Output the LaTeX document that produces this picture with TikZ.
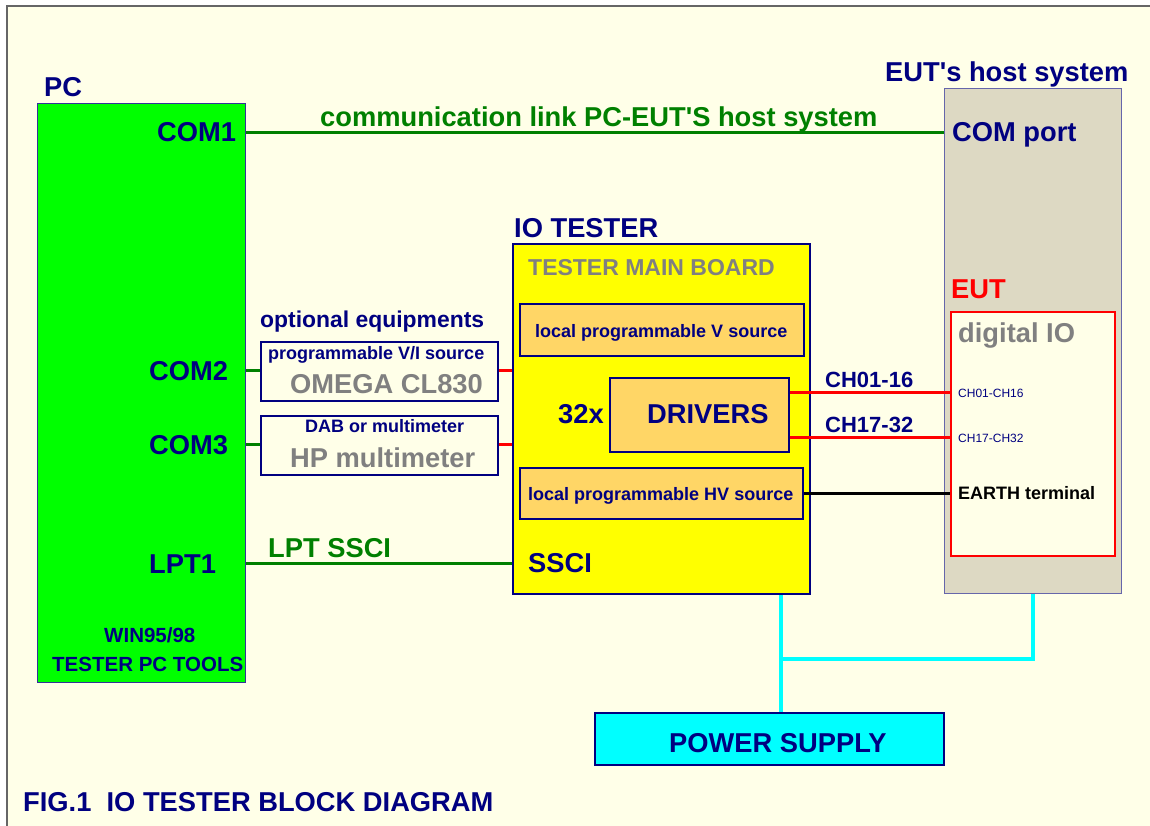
\documentclass[tikz,border=0pt]{standalone}
\usepackage{fontspec}
\setmainfont{Liberation Sans}
\usetikzlibrary{positioning}
\definecolor{navy}{RGB}{0,0,128}
\definecolor{cream}{RGB}{255,255,232}
\definecolor{pcgreen}{RGB}{0,255,0}
\definecolor{linkgreen}{RGB}{0,128,0}
\definecolor{hostgray}{RGB}{221,217,195}
\definecolor{boardorange}{RGB}{255,214,102}
\definecolor{boardyellow}{RGB}{255,255,0}
\definecolor{pwrcyan}{RGB}{0,255,255}
\definecolor{framegray}{RGB}{102,102,102}
\definecolor{txtgray}{RGB}{128,128,128}

\begin{document}
\begin{tikzpicture}[
  x=1pt, y=-1pt,
  box/.style = {draw=navy, line width=2pt, anchor=north west, inner sep=0pt},
  subbox/.style = {box, fill=boardorange, line width=1.5pt},
  biglbl/.style = {anchor=base west, inner sep=0pt, text=navy, font=\fontsize{27.3}{30}\selectfont\bfseries},
  midlbl/.style = {biglbl, font=\fontsize{18}{21}\selectfont\bfseries},
  pclbl/.style = {biglbl, font=\fontsize{20.5}{24}\selectfont\bfseries},
  chlbl/.style = {biglbl, font=\fontsize{22}{25}\selectfont\bfseries},
  pinlbl/.style = {biglbl, font=\fontsize{12}{14}\selectfont},
  glink/.style = {draw=linkgreen, line width=3pt},
  rlink/.style = {draw=red, line width=3pt},
  pwr/.style = {draw=pwrcyan, line width=3.5pt}
]
\useasboundingbox (0,0) rectangle (1150,826);
\fill[white] (0,0) rectangle (1150,826);
\fill[cream] (7,6) rectangle (1150,826);
\draw[framegray, line width=1.5pt] (7,826) -- (7,6) -- (1150,6);

% boxes
\node[box, fill=pcgreen, draw={rgb,255:red,51;green,51;blue,153}, line width=1pt, minimum width=208pt, minimum height=579pt] (pc) at (37,103) {};
\node[box, fill=hostgray, draw={rgb,255:red,102;green,102;blue,170}, line width=1pt, minimum width=177pt, minimum height=505pt] (host) at (944,88) {};
\node[box, fill=cream, draw=red, minimum width=164pt, minimum height=244pt] (eut) at (950,311) {};
\node[box, fill=boardyellow, minimum width=297pt, minimum height=350pt] (tester) at (512,243) {};
\node[subbox, minimum width=284pt, minimum height=52pt] (vsrc) at (519,303) {};
\node[subbox, minimum width=179pt, minimum height=74pt] (drivers) at (609,377) {};
\node[subbox, minimum width=283pt, minimum height=51pt] (hvsrc) at (519,467) {};
\node[box, fill=cream, minimum width=237pt, minimum height=59pt] (omega) at (260,341) {};
\node[box, fill=cream, minimum width=237pt, minimum height=59pt] (hpmeter) at (260,415) {};
\node[box, fill=pwrcyan, minimum width=349pt, minimum height=52pt] (power) at (594,712) {};

% labels
\node[biglbl] (pclbl) at (44,97) {PC};
\node[biglbl] (com1) at (157,142) {COM1};
\node[biglbl] (com2) at (149,380) {COM2};
\node[biglbl] (com3) at (149,454) {COM3};
\node[biglbl] (lpt1) at (149,573) {LPT1};
\node[pclbl] (win) at (104,642) {WIN95/98};
\node[pclbl] (tools) at (52,671) {TESTER PC TOOLS};
\node[biglbl, text=linkgreen] (linklbl) at (320,127) {communication link PC-EUT\textquotesingle S host system};
\node[biglbl] (hostlbl) at (885,82) {EUT\textquotesingle s host system};
\node[biglbl] (comport) at (952,142) {COM port};
\node[biglbl, text=red] (eutlbl) at (951,298) {EUT};
\node[biglbl, text=txtgray] (digio) at (958,342) {digital IO};
\node[pinlbl] (ch1pin) at (958,397) {CH01-CH16};
\node[pinlbl] (ch2pin) at (958,442) {CH17-CH32};
\node[midlbl, text=black] (earth) at (958,499) {EARTH terminal};
\node[biglbl] (testerlbl) at (514,238) {IO TESTER};
\node[biglbl, text=txtgray, font=\fontsize{23}{26}\selectfont\bfseries] (boardlbl) at (528,275) {TESTER MAIN BOARD};
\node[midlbl] (vsrclbl) at (535,337) {local programmable V source};
\node[biglbl] (nlbl) at (558,423) {32x};
\node[biglbl] (drvlbl) at (647,423) {DRIVERS};
\node[midlbl] (hvsrclbl) at (528,500) {local programmable HV source};
\node[biglbl] (sscilbl) at (528,572) {SSCI};
\node[chlbl] (ch1lbl) at (825,387) {CH01-16};
\node[chlbl] (ch2lbl) at (825,432) {CH17-32};
\node[chlbl, font=\fontsize{22.9}{25}\selectfont\bfseries] (optlbl) at (260,327) {optional equipments};
\node[midlbl] (vilbl) at (268,359) {programmable V/I source};
\node[biglbl, text=txtgray] (omegalbl) at (290,393) {OMEGA CL830};
\node[midlbl] (dablbl) at (305,432) {DAB or multimeter};
\node[biglbl, text=txtgray] (hplbl) at (290,467) {HP multimeter};
\node[biglbl, text=linkgreen] (lptlbl) at (268,557) {LPT SSCI};
\node[biglbl] (powerlbl) at (669,752) {POWER SUPPLY};
\node[biglbl] (figlbl) at (23,811) {FIG.1\ \ IO TESTER BLOCK DIAGRAM};

% links
\draw[glink] (pc.east |- com1.east) -- (host.west |- com1.east);
\draw[glink] (pc.east |- com2.east) -- (omega.west |- com2.east);
\draw[rlink] (omega.east |- com2.east) -- (tester.west |- com2.east);
\draw[glink] (pc.east |- com3.east) -- (hpmeter.west |- com3.east);
\draw[rlink] (hpmeter.east |- com3.east) -- (tester.west |- com3.east);
\draw[glink] (pc.east |- lpt1.east) -- (tester.west |- lpt1.east);
\draw[rlink] (drivers.east |- ch1pin.west) -- (eut.west |- ch1pin.west);
\draw[rlink] (drivers.east |- ch2pin.west) -- (eut.west |- ch2pin.west);
\draw[line width=3pt] (hvsrc.east) -- (eut.west |- hvsrc.east);
\coordinate (tap) at (781,659);
\draw[pwr] (tester.south -| tap) -- (power.north -| tap);
\draw[pwr] (tap) -| (host.south);
\end{tikzpicture}
\end{document}
